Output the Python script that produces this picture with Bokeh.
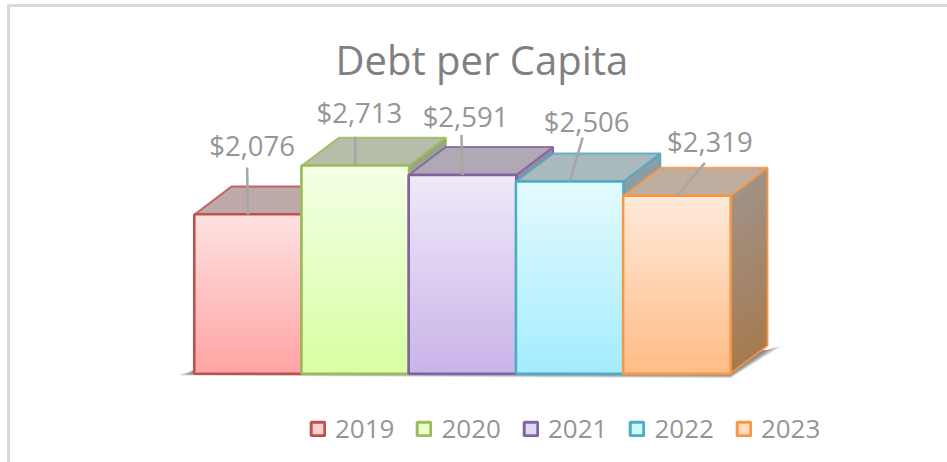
from bokeh.core.properties import value
from bokeh.embed import file_html
from bokeh.models import Legend, LegendItem
from bokeh.plotting import figure
from bokeh.resources import INLINE

title = "Debt per Capita"
years = ["2019", "2020", "2021", "2022", "2023"]
debt = [2076, 2713, 2591, 2506, 2319]
labels = ["$2,076", "$2,713", "$2,591", "$2,506", "$2,319"]

edge = ["#c0504d", "#9bbb59", "#8064a2", "#4bacc6", "#f79646"]
front_top = ["#ffe2e2", "#f4ffe6", "#efe9f9", "#e4fbff", "#ffeadb"]
front_bottom = ["#ffa3a3", "#d8ffa3", "#c9b4e8", "#a3ecff", "#ffbc85"]
swatch = ["#ffd2d2", "#ebffd2", "#e2d8f4", "#cff7ff", "#ffdcc0"]
roof = ["#bda9a8", "#b6bda9", "#b1a8b6", "#a9b9bd", "#bfae9f"]
side_top = ["#9c8a89", "#98a38a", "#938a9c", "#8c9ea3", "#a09286"]
side_bottom = ["#a06c6c", "#8fa560", "#84709c", "#64909c", "#a67a50"]

# layout, in pixels of the page
FRAME_L, FRAME_T, FRAME_W, FRAME_H = 10, 86, 937, 376
BASE_Y = 373
BAR_W = 107.2
BAR0_X = 247.6
PX_PER_UNIT = 0.0766
DEPTH_X = 37 / BAR_W
DEPTH_Y = 28 / PX_PER_UNIT
label_dx = [4, 4, 3, 17, 33]
label_dy = [69, 53, 59, 60, 54]
leader_dx = [-1, 0, -1, 13, 28]
leader_dy = [47, 29, 40, 44, 33]


def hex2rgb(c):
    return tuple(int(c[i:i + 2], 16) for i in (1, 3, 5))


def mix(a, b, t):
    ra, rb = hex2rgb(a), hex2rgb(b)
    return "#%02x%02x%02x" % tuple(round(x + (y - x) * t) for x, y in zip(ra, rb))


x_start = -(BAR0_X - FRAME_L) / BAR_W
y_start = -(FRAME_T + FRAME_H - BASE_Y) / PX_PER_UNIT
p = figure(
    frame_width=FRAME_W, frame_height=FRAME_H,
    x_range=(x_start, x_start + FRAME_W / BAR_W),
    y_range=(y_start, y_start + FRAME_H / PX_PER_UNIT),
    output_backend="svg", toolbar_location=None,
    min_border=0, min_border_left=0, min_border_right=0, min_border_top=79, min_border_bottom=0,
    background_fill_color="white", border_fill_color="white", outline_line_color=None,
    margin=(4, 0, 0, 7),
)
p.styles = {"border-top": "3px solid #d9d9d9", "border-left": "3px solid #d9d9d9"}
p.axis.visible = False
p.grid.visible = False

p.title.text = title
p.title.align = "left"
p.title.text_font = "Open Sans"
p.title.text_font_size = "40px"
p.title.text_font_style = "normal"
p.title.text_color = "#808080"
p.title.standoff = 0
p.title.offset = 325

# soft floor shadow
n_bars = len(debt)
for k in range(9):
    g = k * 1.6 / BAR_W
    gy = k * 0.45 / PX_PER_UNIT
    h = (7 - k * 0.6) / PX_PER_UNIT
    p.patch(
        [-0.5 - 0.02 - g, -0.5 - 0.02 - g, n_bars - 0.5, n_bars - 0.5 + DEPTH_X + 0.02 + g, n_bars - 0.5 + DEPTH_X, -0.5],
        [-8, -8 - gy * 0.4, -20 - gy * 0.9, DEPTH_Y - 30 + gy * 0.6, DEPTH_Y - 60, h],
        fill_color="#202020", fill_alpha=0.075, line_color=None,
    )

items = []
for i, v in enumerate(debt):
    L, R = i - 0.5, i + 0.5
    # side face
    n = 40
    for s in range(n):
        y0, y1 = v * s / n, v * (s + 1) / n
        c = mix(side_bottom[i], side_top[i], (s + 0.5) / n)
        p.patch([R, R + DEPTH_X, R + DEPTH_X, R], [y0, y0 + DEPTH_Y, y1 + DEPTH_Y, y1],
                fill_color=c, line_color=c, line_width=1)
    p.patch([R, R + DEPTH_X, R + DEPTH_X, R], [0, DEPTH_Y, v + DEPTH_Y, v],
            fill_color=None, line_color=edge[i], line_width=2, line_alpha=0.85)
    # roof
    p.patch([L, L + DEPTH_X, R + DEPTH_X, R], [v, v + DEPTH_Y, v + DEPTH_Y, v],
            fill_color=roof[i], line_color=edge[i], line_width=2, line_alpha=0.85)
    # front face: base used by the legend, then gradient rows
    base = p.quad(left=L, right=R, bottom=0, top=v, fill_color=swatch[i],
                  line_color=edge[i], line_width=3)
    items.append(LegendItem(label=years[i], renderers=[base]))
    n = 60
    for s in range(n):
        c = mix(front_bottom[i], front_top[i], (s + 0.5) / n)
        p.quad(left=L, right=R, bottom=v * s / n, top=v * (s + 1) / n, fill_color=c, line_color=c, line_width=1)
    p.quad(left=L, right=R, bottom=0, top=v, fill_color=None, line_color=edge[i], line_width=2.2)

# leader lines and data labels
xs = list(range(n_bars))
p.segment(
    x0=xs, y0=debt,
    x1=[x + d / BAR_W for x, d in zip(xs, leader_dx)],
    y1=[v + d / PX_PER_UNIT for v, d in zip(debt, leader_dy)],
    line_color="#a6a6a6", line_width=2.5,
)
p.text(
    x=[x + d / BAR_W for x, d in zip(xs, label_dx)],
    y=[v + d / PX_PER_UNIT for v, d in zip(debt, label_dy)],
    text=labels, text_align="center", text_baseline="middle",
    text_font=value("Open Sans"), text_font_size="27.5px", text_color="#959595",
)

legend = Legend(
    items=items, orientation="horizontal", location=(299, 16),
    background_fill_alpha=0, border_line_color=None, margin=0, padding=0,
    glyph_width=17, glyph_height=17, label_standoff=9, spacing=21,
    label_text_font="Open Sans", label_text_font_size="26px", label_text_color="#959595",
)
p.add_layout(legend, "center")

open("out.html", "w").write(file_html(p, INLINE))
